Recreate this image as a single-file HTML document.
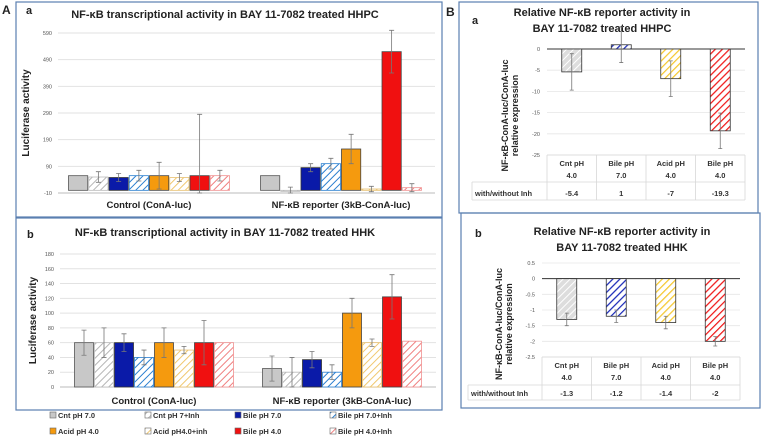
<!DOCTYPE html>
<html><head><meta charset="utf-8"><style>
body{margin:0;background:#fff;font-family:"Liberation Sans",sans-serif}
svg{display:block}
text{font-family:"Liberation Sans",sans-serif}
</style></head><body>
<svg id="s" width="761" height="440" viewBox="0 0 761 440">
<defs>
<pattern id="hGray" width="5" height="5" patternUnits="userSpaceOnUse" patternTransform="rotate(45)"><rect width="5" height="5" fill="#fff"/><line x1="0" y1="0" x2="0" y2="5" stroke="#b5b5b5" stroke-width="2"/></pattern>
<pattern id="hBlue" width="5" height="5" patternUnits="userSpaceOnUse" patternTransform="rotate(45)"><rect width="5" height="5" fill="#fff"/><line x1="0" y1="0" x2="0" y2="5" stroke="#2a7fd0" stroke-width="2"/></pattern>
<pattern id="hYel" width="5" height="5" patternUnits="userSpaceOnUse" patternTransform="rotate(45)"><rect width="5" height="5" fill="#fff"/><line x1="0" y1="0" x2="0" y2="5" stroke="#f0c870" stroke-width="2"/></pattern>
<pattern id="hPink" width="5" height="5" patternUnits="userSpaceOnUse" patternTransform="rotate(45)"><rect width="5" height="5" fill="#fff"/><line x1="0" y1="0" x2="0" y2="5" stroke="#f08080" stroke-width="2"/></pattern>
<pattern id="bGray" width="5" height="5" patternUnits="userSpaceOnUse" patternTransform="rotate(45)"><rect width="5" height="5" fill="#ddd"/><line x1="0" y1="0" x2="0" y2="5" stroke="#fff" stroke-width="2"/></pattern>
<pattern id="bBlue" width="5" height="5" patternUnits="userSpaceOnUse" patternTransform="rotate(45)"><rect width="5" height="5" fill="#fff"/><line x1="0" y1="0" x2="0" y2="5" stroke="#1a2ab8" stroke-width="2.5"/></pattern>
<pattern id="bYel" width="5" height="5" patternUnits="userSpaceOnUse" patternTransform="rotate(45)"><rect width="5" height="5" fill="#fff"/><line x1="0" y1="0" x2="0" y2="5" stroke="#f5c830" stroke-width="2.5"/></pattern>
<pattern id="bRed" width="5" height="5" patternUnits="userSpaceOnUse" patternTransform="rotate(45)"><rect width="5" height="5" fill="#fff"/><line x1="0" y1="0" x2="0" y2="5" stroke="#f01818" stroke-width="2.5"/></pattern>
</defs>
</svg>
<script>
// ---- data ----
const seriesNames=["Cnt pH 7.0","Cnt pH 7+Inh","Bile pH 7.0","Bile pH 7.0+Inh","Acid pH 4.0","Acid pH4.0+inh","Bile pH 4.0","Bile pH 4.0+Inh"];
const groups=["Control (ConA-luc)","NF-κB reporter (3kB-ConA-luc)"];
const aaTicks=[-10,90,190,290,390,490,590];
const aaVals=[[55,50,48,55,55,48,55,55],[55,-3,85,100,155,5,520,10]];
const aaErr=[[0,20,15,20,50,15,230,20],[0,15,15,20,55,10,80,15]];
const abTicks=[0,20,40,60,80,100,120,140,160,180];
const abVals=[[60,60,60,40,60,50,60,60],[25,20,37,20,100,60,122,62]];
const abErr=[[17,20,12,10,20,5,30,0],[17,20,11,10,20,5,30,0]];
const bCats=[["Cnt pH","4.0"],["Bile pH","7.0"],["Acid pH","4.0"],["Bile pH","4.0"]];
const baTicks=[0,-5,-10,-15,-20,-25];
const baVals=[-5.4,1,-7,-19.3];
const baErr=[4.3,4.2,4.2,4.2];
const baLabels=["-5.4","1","-7","-19.3"];
const bbTicks=[0.5,0,-0.5,-1,-1.5,-2,-2.5];
const bbVals=[-1.3,-1.2,-1.4,-2];
const bbErr=[0.2,0.2,0.2,0.15];
const bbLabels=["-1.3","-1.2","-1.4","-2"];
// ---- drawing ----
const S=document.getElementById('s');const NS="http://www.w3.org/2000/svg";
function el(t,a,txt,p){const e=document.createElementNS(NS,t);for(const k in a)e.setAttribute(k,a[k]);if(txt!=null)e.textContent=txt;(p||S).appendChild(e);return e;}
const fills=["#c8c8c8","url(#hGray)","#0a1aa8","url(#hBlue)","#f59a0e","url(#hYel)","#f01010","url(#hPink)"];
const strokes=["#555","#bbb","#333","#2a7fd0","#444","#e8c070","#444","#f09090"];
let r;
r=el('rect',{x:16,y:2,width:426,height:215,fill:'none',stroke:'#5b7fb0','stroke-width':1.2});

r=el('rect',{x:16,y:218,width:426,height:192,fill:'none',stroke:'#5b7fb0','stroke-width':1.2});

r=el('rect',{x:459,y:2,width:299,height:211,fill:'none',stroke:'#5b7fb0','stroke-width':1.2});

r=el('rect',{x:461,y:213,width:299,height:195,fill:'none',stroke:'#5b7fb0','stroke-width':1.2});

function T(x,y,s,fs,name,extra){const a=Object.assign({x:x,y:y,'font-size':fs,'font-weight':'bold',fill:'#222'},extra||{});const t=el('text',a,s);return t;}
T(2,14,"A",12,'label-A');T(26,14,"a",11,'label-Aa');T(27,238,"b",11,'label-Ab');
T(446,16,"B",12,'label-B');T(472,24,"a",11,'label-Ba');T(475,237,"b",11,'label-Bb');
T(225,18,"NF-κB transcriptional  activity in BAY 11-7082 treated HHPC",11,'title-Aa',{'text-anchor':'middle'});
T(225,236,"NF-κB transcriptional  activity in BAY 11-7082 treated HHK",11,'title-Ab',{'text-anchor':'middle'});
T(602,16,"Relative NF-κB  reporter activity in",11,'title-Ba-line1',{'text-anchor':'middle'});
T(602,32,"BAY 11-7082 treated HHPC",11,'title-Ba-line2',{'text-anchor':'middle'});
T(622,235,"Relative NF-κB  reporter activity in",11,'title-Bb-line1',{'text-anchor':'middle'});
T(622,251,"BAY 11-7082 treated HHK",11,'title-Bb-line2',{'text-anchor':'middle'});

function groupedChart(id,ticks,vals,errs,x0,x1,yTop,yBot,g0,gw,labelY,ytitleX){
  const lo=ticks[0],hi=ticks[ticks.length-1];
  const y=v=>yBot-(v-lo)/(hi-lo)*(yBot-yTop);
  const clip=p=>Math.max(yTop-8,Math.min(yBot,p));
  ticks.forEach((t,i)=>{
    const g=el('line',{x1:x0,x2:x1,y1:y(t),y2:y(t),stroke:i==0?'#bbb':'#e2e2e2','stroke-width':1});
    
    const l=el('text',{x:x0-6,y:y(t)+2,'font-size':5.5,'text-anchor':'end',fill:'#555'},String(t));
    
  });
  const zero=y(0)<yBot?y(0):yBot;
  vals.forEach((gv,gi)=>{
    const bw=gw/8;const gx=g0[gi];
    gv.forEach((v,i)=>{
      const bx=gx+i*bw;const yv=y(v);
      const top=Math.min(yv,zero), h=Math.abs(zero-yv);
      const bar=el('rect',{x:bx+0.5,y:top,width:bw-1,height:Math.max(h,1),fill:fills[i],stroke:strokes[i],'stroke-width':0.8});
      
      const e=errs[gi][i];
      if(e>0){const cx=bx+bw/2;const a=clip(y(v+e)),b=clip(y(v-e));
        const eb=el('path',{d:`M${cx},${a}V${b}M${cx-2.5},${a}h5M${cx-2.5},${b}h5`,stroke:'#777','stroke-width':0.8,fill:'none'});
        }
    });
    const gl=el('text',{x:gx+gw/2,y:labelY,'font-size':9.5,'font-weight':'bold','text-anchor':'middle',fill:'#222'},groups[gi]);
    
  });
  const yt=el('text',{x:ytitleX,y:(yTop+yBot)/2,'font-size':10,'font-weight':'bold','text-anchor':'middle',fill:'#222',transform:`rotate(-90 ${ytitleX} ${(yTop+yBot)/2})`},"Luciferase activity");
  
}
groupedChart('Aa',aaTicks,aaVals,aaErr,58,435,33,193,[68,260],162,208,29);
groupedChart('Ab',abTicks,abVals,abErr,60,436,254,387,[74,262],160,404,36);

seriesNames.forEach((n,i)=>{
  const lx=[50,145,235,330][i%4],ly=i<4?418:434;
  const sw=el('rect',{x:lx,y:ly-6,width:6,height:6,fill:fills[i],stroke:'#666','stroke-width':0.6});
  
  const t=el('text',{x:lx+8,y:ly,'font-size':7.5,'font-weight':'bold',fill:'#333'},n);
  
});

const bFills=["url(#bGray)","url(#bBlue)","url(#bYel)","url(#bRed)"];
function relChart(id,ticks,vals,errs,labels,x0,x1,yTop,yBot,labX,rowMid,rowEnd,ytx){
  const hi=ticks[0],lo=ticks[ticks.length-1];
  const y=v=>yTop+(hi-v)/(hi-lo)*(yBot-yTop);
  ticks.forEach(t=>{
    const g=el('line',{x1:x0,x2:x1,y1:y(t),y2:y(t),stroke:t==0?'#333':'#e6e6e6','stroke-width':t==0?1:0.8});
    
    const l=el('text',{x:x0-7,y:y(t)+2,'font-size':5.5,'text-anchor':'end',fill:'#555'},String(t));
    
  });
  const cw=(x1-x0)/vals.length;
  vals.forEach((v,i)=>{
    const cx=x0+cw*(i+0.5);const top=Math.min(y(v),y(0));
    const b=el('rect',{x:cx-10,y:top,width:20,height:Math.abs(y(v)-y(0)),fill:bFills[i],stroke:'#333','stroke-width':0.8});
    
    const e=errs[i];
    const eb=el('path',{d:`M${cx},${y(v+e)}V${y(v-e)}M${cx-2},${y(v+e)}h4M${cx-2},${y(v-e)}h4`,stroke:'#777','stroke-width':0.8,fill:'none'});
    
    const c1=el('text',{x:cx,y:yBot+11,'font-size':7.5,'font-weight':'bold','text-anchor':'middle',fill:'#333'},bCats[i][0]);
    
    const c2=el('text',{x:cx,y:yBot+23,'font-size':7.5,'font-weight':'bold','text-anchor':'middle',fill:'#333'},bCats[i][1]);
    
    const vl=el('text',{x:cx,y:rowEnd-4,'font-size':7.5,'font-weight':'bold','text-anchor':'middle',fill:'#333'},labels[i]);
    
  });
  let d=`M${x0},${yBot}H${x1}M${labX},${rowMid}H${x1}M${labX},${rowEnd}H${x1}M${labX},${rowMid}V${rowEnd}`;
  for(let i=0;i<=vals.length;i++)d+=`M${x0+cw*i},${yBot}V${rowEnd}`;
  const tb=el('path',{d:d,stroke:'#d8d8d8','stroke-width':0.8,fill:'none'});
  
  const rl=el('text',{x:labX+3,y:rowEnd-4,'font-size':7.5,'font-weight':'bold',fill:'#333'},"with/without Inh");
  
  const my=(yTop+rowMid)/2;
  const t1=el('text',{x:ytx,y:my,'font-size':9,'font-weight':'bold','text-anchor':'middle',fill:'#222',transform:`rotate(-90 ${ytx} ${my})`},"NF-κB-ConA-luc/ConA-luc");
  
  const t2=el('text',{x:ytx+10,y:my,'font-size':9,'font-weight':'bold','text-anchor':'middle',fill:'#222',transform:`rotate(-90 ${ytx+10} ${my})`},"relative expression");
  
}
relChart('Ba',baTicks,baVals,baErr,baLabels,547,745,49,155,472,182,200,508);
relChart('Bb',bbTicks,bbVals,bbErr,bbLabels,542,740,263,357,468,385,400,502);
</script>
</body></html>
